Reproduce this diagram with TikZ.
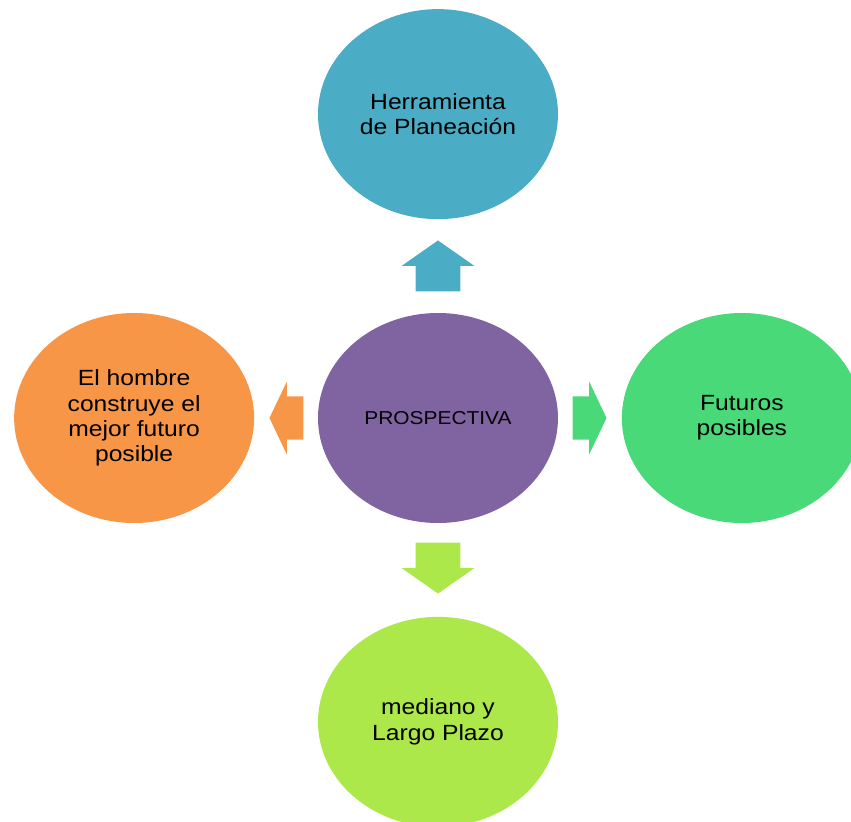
\documentclass[tikz,border=0pt]{standalone}
\usepackage{fontspec}
\setmainfont{Liberation Sans}[FakeStretch=1.12]
\usetikzlibrary{positioning,shapes.geometric,shapes.arrows}
\definecolor{tealblue}{RGB}{75,172,198}
\definecolor{violeta}{RGB}{128,100,162}
\definecolor{verde}{RGB}{74,217,120}
\definecolor{lima}{RGB}{172,232,74}
\definecolor{naranja}{RGB}{247,150,70}
\tikzset{
    %Define style for the ellipses
    bubble/.style={
           ellipse,
           minimum width=180pt,
           minimum height=157.5pt,
           inner sep=0pt,
           font=\fontsize{16.5}{19}\selectfont,
           align=center,
           text=black},
    %Define styles for the block arrows
    vblock/.style={
           single arrow,
           anchor=tail,
           inner xsep=0pt,
           inner ysep=16.5pt,
           minimum height=38.25pt,
           single arrow head extend=10.5pt,
           single arrow tip angle=110},
    hblock/.style={
           single arrow,
           anchor=tail,
           inner xsep=0pt,
           inner ysep=16.1pt,
           minimum height=25.5pt,
           single arrow head extend=10.9pt,
           single arrow tip angle=129}
}
\begin{document}
\begin{tikzpicture}[node distance=70pt and 47.5pt]
\clip (-328.5pt,-303pt) rectangle (309.75pt,313.5pt);
\node[bubble, fill=violeta, font=\fontsize{14}{16}\selectfont](prosp){PROSPECTIVA};
\node[bubble, fill=tealblue, above=of prosp](herr){Herramienta\\de Planeación};
\node[bubble, fill=verde, right=of prosp](fut){Futuros\\posibles};
\node[bubble, fill=lima, below=of prosp](plazo){mediano y\\Largo Plazo};
\node[bubble, fill=naranja, left=of prosp](hombre){El hombre\\construye el\\mejor futuro\\posible};

\node[vblock, fill=tealblue, rotate=90] (aherr) at ([yshift=15.75pt]prosp.north){};
\node[hblock, fill=verde] (afut) at ([xshift=10.5pt]prosp.east){};
\node[vblock, fill=lima, rotate=-90] (aplazo) at ([yshift=-14.25pt]prosp.south){};
\node[hblock, fill=naranja, rotate=180] (ahombre) at ([xshift=-10.5pt]prosp.west){};
\end{tikzpicture}
\end{document}
